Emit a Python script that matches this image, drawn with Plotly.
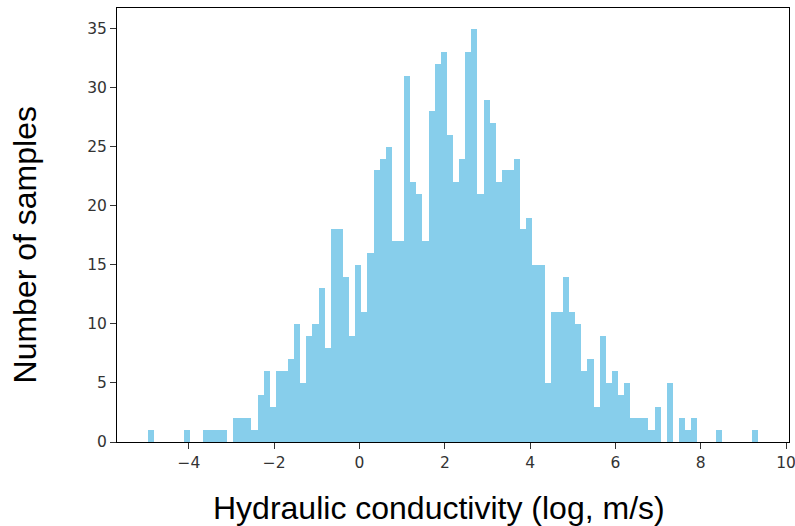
import plotly.graph_objects as go

# Histogram definition
bin_start = -4.97
bin_end = 9.353
n_bins = 100
counts = [
    1, 0, 0, 0, 0, 0, 1, 0, 0, 1,
    1, 1, 1, 0, 2, 2, 2, 1, 4, 6,
    3, 6, 6, 7, 10, 5, 9, 10, 13, 8,
    18, 18, 14, 9, 15, 11, 16, 23, 24, 25,
    17, 17, 31, 22, 21, 17, 28, 32, 33, 26,
    22, 24, 33, 35, 21, 29, 27, 22, 23, 23,
    24, 18, 19, 15, 15, 5, 11, 11, 14, 11,
    10, 6, 7, 3, 9, 5, 6, 4, 5, 2,
    2, 2, 1, 3, 0, 5, 0, 2, 1, 2,
    0, 0, 0, 1, 0, 0, 0, 0, 0, 1,
]
x_ticks = [-4, -2, 0, 2, 4, 6, 8, 10]
y_ticks = [0, 5, 10, 15, 20, 25, 30, 35]
x_label = "Hydraulic conductivity (log, m/s)"
y_label = "Number of samples"

width = (bin_end - bin_start) / n_bins
centers = [bin_start + width * (i + 0.5) for i in range(n_bins)]

fig = go.Figure(go.Bar(
    x=centers, y=counts, width=[width] * n_bins,
    marker=dict(color="#87CEEB", line=dict(width=0)),
    hoverinfo="x+y",
))

margin_x = 0.05 * (bin_end - bin_start)
axis_common = dict(
    showline=True, linecolor="#000000", linewidth=1, mirror=True,
    ticks="outside", ticklen=6, tickwidth=1, tickcolor="#333333",
    showgrid=False, zeroline=False, ticklabeloverflow="allow",
    tickfont=dict(family="DejaVu Sans", size=15.5, color="#333333"),
)
fig.update_layout(
    width=795, height=526,
    margin=dict(l=117, r=6, t=8, b=84, autoexpand=False),
    paper_bgcolor="white", plot_bgcolor="white",
    bargap=0, showlegend=False,
    xaxis=dict(range=[bin_start - margin_x, bin_end + margin_x],
               tickvals=x_ticks, ticktext=[str(v).replace("-", "\u2212") for v in x_ticks],
               **axis_common),
    yaxis=dict(range=[0, max(counts) * 1.05], tickvals=y_ticks,
               ticktext=[str(v) for v in y_ticks], ticklabelstandoff=0, **axis_common),
    annotations=[
        dict(text=x_label, xref="paper", yref="paper", x=0.479, y=-0.152,
             xanchor="center", yanchor="middle", showarrow=False,
             font=dict(family="Liberation Sans, Arial", size=32, color="#000000")),
        dict(text=y_label, xref="paper", yref="paper", x=-0.137, y=0.455,
             xanchor="center", yanchor="middle", showarrow=False, textangle=-90,
             font=dict(family="Liberation Sans, Arial", size=32, color="#000000")),
    ],
)

fig.write_html("out.html",
               config={"displayModeBar": False},
               post_script="document.body.style.margin='0';document.body.style.overflow='hidden';")
